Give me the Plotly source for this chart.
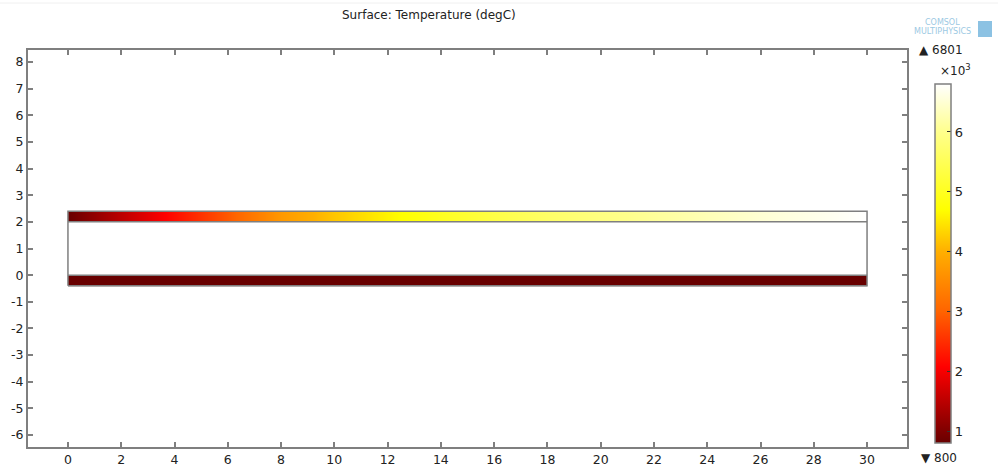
import plotly.graph_objects as go

# Geometry of the layered domain (m)
layer_x = [0, 30]
layer_y = [-0.4, 0, 2, 2.4]

# Temperature along the heated top layer (degC)
top_x = [0, 2, 4, 6, 8, 10, 12, 14, 16, 18, 20, 22, 24, 26, 28, 30]
top_T = [800, 1500, 2200, 2900, 3700, 4200, 4600, 5000, 5350, 5650, 5900, 6100, 6300, 6500, 6650, 6801]

# Bottom layer temperature (degC)
bottom_T = 800

T_min, T_max = 800, 6801
cbar_ticks = [1000, 2000, 3000, 4000, 5000, 6000]
cbar_labels = ["1", "2", "3", "4", "5", "6"]
x_ticks = list(range(0, 31, 2))
x_labels = [str(v) for v in x_ticks]
y_ticks = list(range(-6, 9))
y_labels = [str(v) for v in y_ticks]

# Thermal-light colour table: stops given in degC
thermal_T = [800, 2070, 3000, 4000, 4700, 6000, 6801]
thermal_rgb = ["rgb(104,0,0)", "rgb(255,0,0)", "rgb(255,100,0)", "rgb(255,175,0)",
               "rgb(255,255,0)", "rgb(255,255,140)", "rgb(255,255,255)"]
colorscale = [[(t - T_min) / (T_max - T_min), c] for t, c in zip(thermal_T, thermal_rgb)]

fig = go.Figure()

# Top layer: smooth temperature field
fig.add_trace(go.Contour(
    x=top_x, y=[layer_y[2], layer_y[3]], z=[top_T, top_T],
    colorscale=colorscale, zmin=T_min, zmax=T_max,
    contours=dict(coloring="heatmap", showlines=False),
    line=dict(width=0), showscale=False, hoverinfo="skip",
))

# Bottom layer: uniform temperature
fig.add_trace(go.Heatmap(
    x=layer_x, y=[layer_y[0], layer_y[1]], z=[[bottom_T]],
    colorscale=colorscale, zmin=T_min, zmax=T_max,
    showscale=False, hoverinfo="skip",
))

# Domain boundaries
edge = dict(color="#7f7f7f", width=1.5)
x0, x1 = layer_x
fig.add_trace(go.Scatter(
    x=[x0, x1, x1, x0, x0], y=[layer_y[0], layer_y[0], layer_y[3], layer_y[3], layer_y[0]],
    mode="lines", line=edge, hoverinfo="skip", showlegend=False))
for yy in layer_y[1:3]:
    fig.add_trace(go.Scatter(x=[x0, x1], y=[yy, yy], mode="lines", line=edge,
                             hoverinfo="skip", showlegend=False))

# Colour legend
fig.add_trace(go.Scatter(
    x=[None], y=[None], mode="markers", showlegend=False, hoverinfo="skip",
    marker=dict(color=[T_min], cmin=T_min, cmax=T_max, colorscale=colorscale, showscale=True,
                colorbar=dict(
                    x=1.0319, xanchor="left", xpad=0, y=0.01, yanchor="bottom", ypad=0,
                    lenmode="pixels", len=359, thickness=16,
                    outlinecolor="#7f7f7f", outlinewidth=1.5,
                    tickmode="array", tickvals=cbar_ticks, ticktext=cbar_labels,
                    ticks="inside", ticklen=4, tickcolor="#333", tickwidth=1,
                    tickfont=dict(family="DejaVu Sans", size=13, color="#222"),
                )),
))

axis_common = dict(
    showgrid=False, zeroline=False, showline=True, linecolor="#7f7f7f", linewidth=2,
    mirror="ticks", ticks="inside", ticklen=5, tickwidth=1.5, tickcolor="#7f7f7f",
    tickfont=dict(family="DejaVu Sans", size=12.5, color="#222"), automargin=False,
)

fig.update_layout(
    width=998, height=470,
    margin=dict(l=28, r=91, t=50, b=23, autoexpand=False),
    paper_bgcolor="white", plot_bgcolor="white",
    xaxis=dict(range=[-1.5, 31.5], tickmode="array", tickvals=x_ticks, ticktext=x_labels, **axis_common),
    yaxis=dict(range=[-6.45, 8.45], tickmode="array", tickvals=y_ticks, ticktext=y_labels, **axis_common),
    showlegend=False,
)

font_txt = dict(family="DejaVu Sans", size=12, color="#222")
fig.add_annotation(text="Surface: Temperature (degC)", xref="paper", yref="paper",
                   x=(429 - 28) / 879, y=1 + 35 / 397, xanchor="center", yanchor="middle",
                   showarrow=False, font=font_txt)
fig.add_annotation(text="▲ 6801", xref="paper", yref="paper",
                   x=(917 - 28) / 879, y=1 + 0 / 397, xanchor="left", yanchor="middle",
                   showarrow=False, font=font_txt)
fig.add_annotation(text="×10<sup>3</sup>", xref="paper", yref="paper",
                   x=(938 - 28) / 879, y=1 - 20 / 397, xanchor="left", yanchor="middle",
                   showarrow=False, font=dict(family="DejaVu Sans", size=12, color="#222"))
fig.add_annotation(text="▼ 800", xref="paper", yref="paper",
                   x=(919 - 28) / 879, y=-(458 - 447) / 397, xanchor="left", yanchor="middle",
                   showarrow=False, font=font_txt)

# Branding
fig.add_annotation(text="COMSOL", xref="paper", yref="paper",
                   x=(962 - 28) / 879, y=1 + 28 / 397, xanchor="right", yanchor="middle",
                   showarrow=False, font=dict(family="DejaVu Sans", size=8, color="#9cc9e3"))
fig.add_annotation(text="MULTIPHYSICS", xref="paper", yref="paper",
                   x=(973 - 28) / 879, y=1 + 18 / 397, xanchor="right", yanchor="middle",
                   showarrow=False, font=dict(family="DejaVu Sans", size=8, color="#9cc9e3"))
fig.add_shape(type="rect", xref="paper", yref="paper",
              x0=(978 - 28) / 879, x1=(992 - 28) / 879, y0=1 + 13 / 397, y1=1 + 29 / 397,
              fillcolor="#6fb3dc", line=dict(width=0), opacity=0.8)
fig.add_shape(type="line", xref="paper", yref="paper",
              x0=-28 / 879, x1=1 + 91 / 879, y0=1 + 47 / 397, y1=1 + 47 / 397,
              line=dict(color="#f0f0f0", width=1))

fig.write_html("out.html")
